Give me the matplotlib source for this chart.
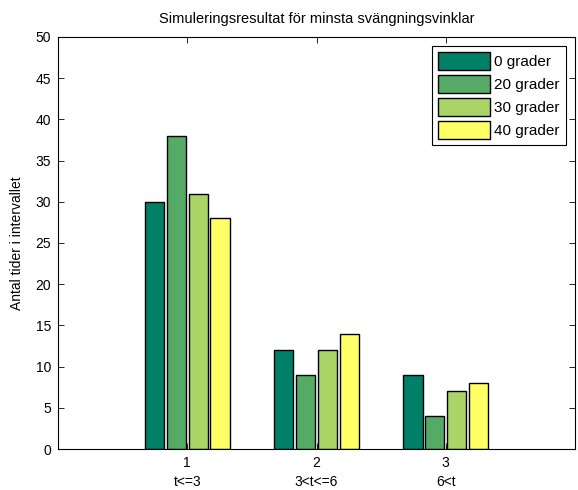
import numpy as np
import matplotlib
matplotlib.use('Agg')
import matplotlib.pyplot as plt

plt.rcParams['font.family'] = ['Liberation Sans', 'DejaVu Sans']
plt.rcParams['font.size'] = 10

groups = [1, 2, 3]
group_labels = ['1\nt<=3', '2\n3<t<=6', '3\n6<t']
series_names = ['0 grader', '20 grader', '30 grader', '40 grader']
values_0 = [30, 12, 9]
values_20 = [38, 9, 4]
values_30 = [31, 12, 7]
values_40 = [28, 14, 8]
colors = ['#008066', '#55aa66', '#aad466', '#ffff66']

fig = plt.figure(figsize=(5.78, 4.90), dpi=100)
ax = fig.add_axes([58 / 578, 41 / 490, 517 / 578, 412 / 490])

x = np.array(groups)
offsets = [-0.254, -0.085, 0.085, 0.254]
width = 0.15
for vals, off, col, name in zip([values_0, values_20, values_30, values_40],
                                offsets, colors, series_names):
    ax.bar(x + off, vals, width, color=col, edgecolor='black', linewidth=1.0, label=name)

ax.set_xlim(0, 4)
ax.set_ylim(0, 50)
ax.set_yticks(range(0, 51, 5))
ax.set_xticks(groups)
ax.set_xticklabels(group_labels, linespacing=1.5)
ax.tick_params(direction='in', top=True, right=True, length=4, width=0.6, pad=5)
for s in ax.spines.values():
    s.set_linewidth(0.8)

ax.set_ylabel('Antal tider i intervallet', labelpad=8)
ax.set_title('Simuleringsresultat för minsta svängningsvinklar', fontsize=10.5, pad=10)

leg = ax.legend(loc='upper right', fancybox=False, edgecolor='black', framealpha=1,
                handlelength=3.4, handleheight=1.4, borderpad=0.4, labelspacing=0.35,
                handletextpad=0.3, borderaxespad=0.6, fontsize=11)
leg.get_frame().set_linewidth(0.8)

fig.savefig('out.png', dpi=100)
